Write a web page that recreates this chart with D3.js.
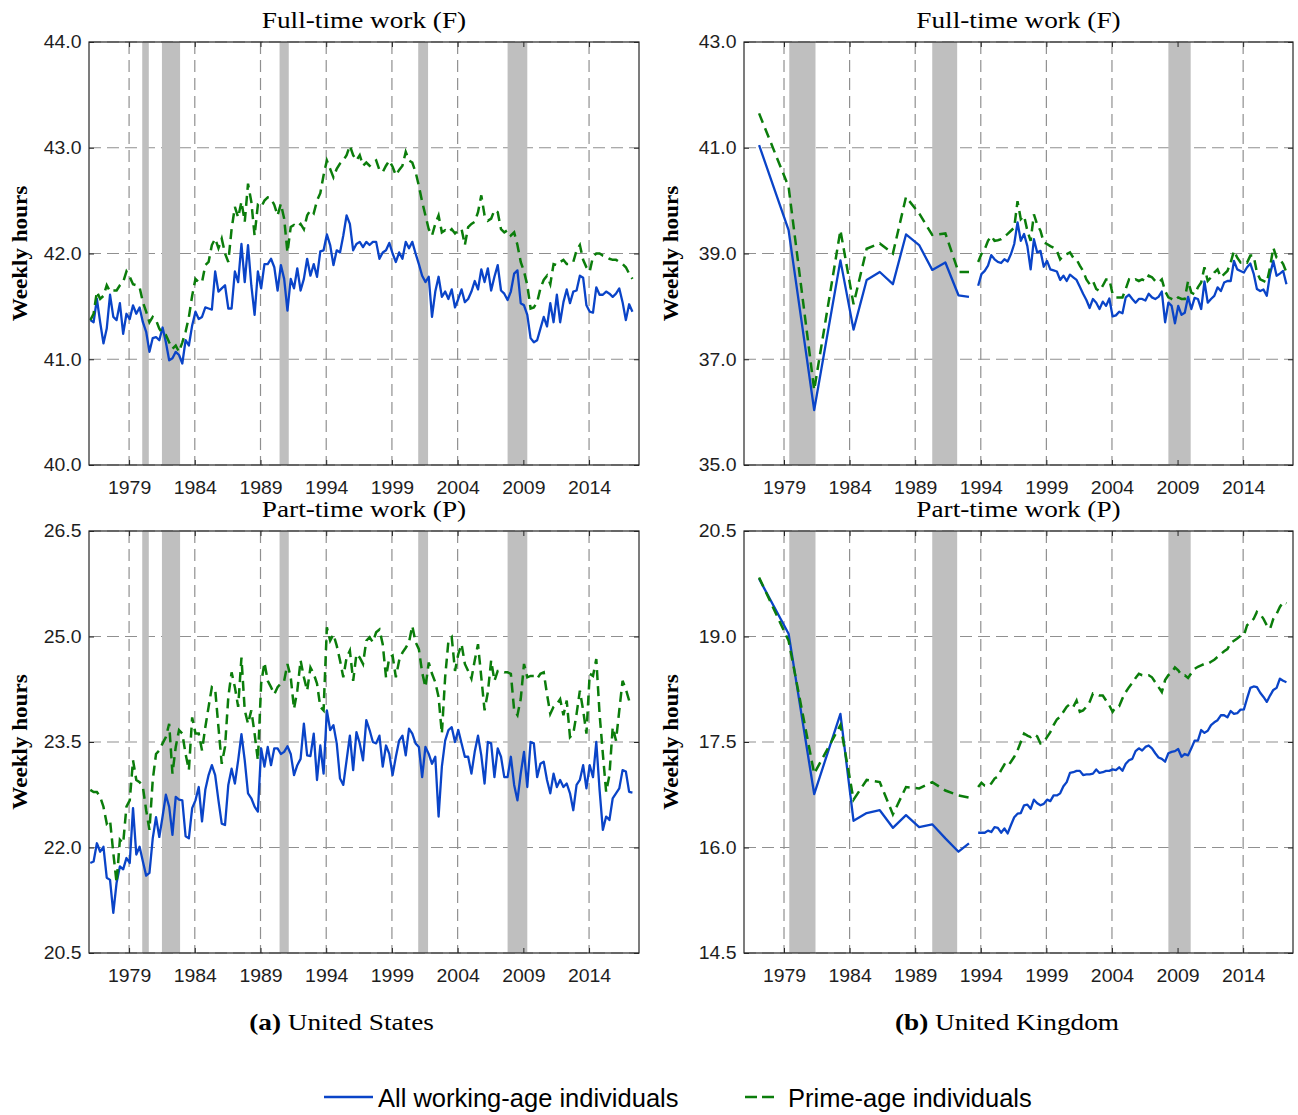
<!doctype html>
<html lang="en">
<head>
<meta charset="utf-8">
<title>Weekly hours in full-time and part-time work, US and UK</title>
<script src="https://cdn.jsdelivr.net/npm/d3@7"></script>
<style>
  body { margin: 0; background: #fff; }
  svg { display: block; background: #fff; }
  .tick text { font-family: "Liberation Sans", Arial, sans-serif; font-size: 18px; fill: #1e1e1e; }
  .tick line { stroke: #262626; stroke-width: 1; }
  .grid { stroke: #909090; stroke-width: 1.2; stroke-dasharray: 12,6; }
  .frame { fill: none; stroke: #262626; stroke-width: 1.2; }
  .recession { fill: #bfbfbf; }
  .line-all { fill: none; stroke: #0a44c8; stroke-width: 2.3; stroke-linejoin: round; }
  .line-prime { fill: none; stroke: #0b7d0b; stroke-width: 2.5; stroke-dasharray: 10,6; }
  .title, .caption { font-family: "Liberation Serif", "Times New Roman", serif; font-size: 23.5px; fill: #000; }
  .ylabel { font-family: "Liberation Serif", "Times New Roman", serif; font-size: 22px; font-weight: bold; fill: #000; }
  .legend { font-family: "Liberation Sans", Arial, sans-serif; font-size: 25.5px; fill: #000; }
</style>
</head>
<body>
<svg id="chart" width="1298" height="1115"></svg>
<script>
// ---- data ----
var xTickYears = [1979, 1984, 1989, 1994, 1999, 2004, 2009, 2014];

var usFullTicks = [40, 41, 42, 43, 44];
var usPartTicks = [20.5, 22, 23.5, 25, 26.5];
var ukFullTicks = [35, 37, 39, 41, 43];
var ukPartTicks = [14.5, 16, 17.5, 19, 20.5];

// recession periods (decimal years)
var usRecessions = [[1980.0, 1980.5], [1981.5, 1982.88], [1990.45, 1991.15], [2001.0, 2001.75], [2007.8, 2009.3]];
var ukRecessions = [[1979.4, 1981.4], [1990.3, 1992.2], [2008.3, 2010.0]];

// US: quarterly, first quarter of 1976 onwards
var usStart = 1976.05;

var usFullAll = [
  41.37, 41.35, 41.57, 41.35, 41.15, 41.29, 41.61, 41.40, 41.37, 41.53,
  41.24, 41.43, 41.38, 41.51, 41.43, 41.49, 41.35, 41.26, 41.07, 41.20,
  41.21, 41.18, 41.30, 41.16, 40.99, 41.01, 41.07, 41.04, 40.96, 41.18,
  41.13, 41.32, 41.45, 41.38, 41.40, 41.49, 41.48, 41.47, 41.83, 41.64,
  41.67, 41.70, 41.48, 41.48, 41.83, 41.73, 42.09, 41.73, 42.08, 41.70,
  41.42, 41.83, 41.67, 41.90, 41.90, 41.95, 41.87, 41.65, 41.89, 41.76,
  41.46, 41.76, 41.67, 41.86, 41.65, 41.76, 41.95, 41.79, 41.90, 41.78,
  42.02, 42.03, 42.18, 42.08, 41.89, 42.03, 42.01, 42.17, 42.36, 42.28,
  42.03, 42.09, 42.11, 42.06, 42.11,
  42.08, 42.11, 42.11,
  41.95, 42.01, 42.03, 42.10, 42.00, 41.92, 42.01, 41.95, 42.11, 42.05,
  42.11, 42.00, 41.90, 41.79, 41.73, 41.78, 41.40, 41.64, 41.78, 41.59,
  41.64, 41.57, 41.66, 41.49, 41.57, 41.66, 41.54, 41.57, 41.64, 41.74,
  41.66, 41.85, 41.73, 41.86, 41.65, 41.78, 41.89, 41.65, 41.62, 41.56,
  41.64, 41.81, 41.84, 41.53, 41.51, 41.42, 41.20, 41.16, 41.18, 41.29,
  41.40, 41.31, 41.53, 41.35, 41.61, 41.35, 41.54, 41.66, 41.53, 41.64,
  41.65, 41.79, 41.77, 41.51, 41.45, 41.44, 41.68, 41.61, 41.61, 41.64,
  41.62, 41.59, 41.62, 41.67, 41.54, 41.37, 41.52, 41.45
];

var usFullPrime = [
  41.37, 41.43, 41.64, 41.57, 41.60, 41.70, 41.64, 41.65, 41.65, 41.70,
  41.73, 41.83, 41.78, 41.71, 41.70, 41.68, 41.54, 41.45, 41.35, 41.40,
  41.37, 41.29, 41.24, 41.23, 41.16, 41.10, 41.13, 41.07, 41.16, 41.26,
  41.40, 41.60, 41.76, 41.73, 41.73, 41.89, 41.92, 42.08, 42.14, 42.05,
  42.14, 42.00, 41.92, 42.23, 42.44, 42.34, 42.49, 42.30, 42.66, 42.49,
  42.17, 42.46, 42.44, 42.50, 42.53, 42.52, 42.46, 42.36, 42.47, 42.33,
  42.01, 42.25, 42.27, 42.25, 42.28, 42.23, 42.36, 42.41, 42.38, 42.50,
  42.57, 42.74, 42.88, 42.80, 42.72, 42.80, 42.85, 42.88, 42.93, 43.02,
  42.93, 42.88, 42.93, 42.83, 42.86,
  42.83, 42.86, 42.88,
  42.79, 42.77, 42.83, 42.88, 42.82, 42.74, 42.79, 42.83, 42.96, 42.88,
  42.86, 42.77, 42.64, 42.49, 42.36, 42.23, 42.17, 42.28, 42.36, 42.20,
  42.22, 42.20, 42.23, 42.19, 42.22, 42.23, 42.08, 42.25, 42.28, 42.30,
  42.39, 42.55, 42.36, 42.31, 42.33, 42.41, 42.39, 42.23, 42.20, 42.22,
  42.17, 42.20, 42.08, 41.92, 41.83, 41.70, 41.48, 41.49, 41.54, 41.67,
  41.75, 41.79, 41.71, 41.90, 41.89, 41.92, 41.94, 41.90, 41.90, 41.92,
  42.03, 42.08, 41.94, 41.87, 41.83, 41.97, 42.00, 42.00, 41.98, 41.97,
  41.95, 41.94, 41.94, 41.92, 41.90, 41.87, 41.81, 41.76
];

var usPartAll = [
  21.78, 21.80, 22.06, 21.94, 22.01, 21.57, 21.54, 21.07, 21.50, 21.73,
  21.69, 21.85, 21.78, 22.56, 21.90, 22.01, 21.80, 21.60, 21.64, 22.13,
  22.43, 22.15, 22.44, 22.75, 22.58, 22.18, 22.72, 22.68, 22.67, 22.16,
  22.13, 22.56, 22.67, 22.86, 22.37, 22.82, 23.03, 23.17, 23.03, 22.67,
  22.34, 22.32, 22.89, 23.12, 22.91, 23.24, 23.61, 23.24, 22.77, 22.70,
  22.58, 22.51, 23.41, 23.15, 23.43, 23.17, 23.41, 23.41, 23.33, 23.36,
  23.44, 23.33, 23.03, 23.17, 23.26, 23.76, 23.31, 23.30, 23.62, 22.96,
  23.45, 23.05, 23.95, 23.67, 23.74, 23.48, 22.98, 22.89, 23.24, 23.59,
  23.10, 23.64, 23.48, 23.24, 23.81,
  23.67, 23.50, 23.48, 23.59, 23.15, 23.45, 23.33, 23.03, 23.29, 23.52,
  23.59, 23.31, 23.69, 23.62, 23.48, 23.43, 23.00, 23.43, 23.33, 23.19,
  23.29, 22.44, 23.15, 23.52, 23.67, 23.71, 23.50, 23.67, 23.48, 23.29,
  23.29, 23.05, 23.36, 23.59, 23.31, 22.91, 23.50, 23.48, 23.00, 23.41,
  23.29, 23.00, 23.00, 23.29, 22.89, 22.67, 23.05, 23.36, 22.86, 23.50,
  23.48, 23.00, 23.19, 23.22, 22.96, 22.77, 23.05, 22.86, 22.96, 22.86,
  22.91, 22.77, 22.53, 22.89, 22.96, 23.17, 22.84, 23.17, 23.00, 23.50,
  22.82, 22.25, 22.44, 22.39, 22.70, 22.77, 22.84, 23.10, 23.08, 22.79,
  22.78
];

var usPartPrime = [
  22.82, 22.79, 22.79, 22.72, 22.58, 22.34, 22.39, 21.92, 21.50, 22.11,
  22.06, 22.58, 22.67, 23.24, 22.96, 22.93, 22.86, 22.53, 22.25, 22.96,
  23.33, 23.38, 23.48, 23.57, 23.76, 23.05, 23.43, 23.67, 23.62, 23.33,
  23.10, 23.85, 23.62, 23.62, 23.38, 23.71, 24.00, 24.28, 24.25, 23.71,
  23.19, 23.43, 24.14, 24.49, 24.28, 24.00, 24.70, 23.95, 23.76, 23.95,
  23.62, 23.24, 24.33, 24.63, 24.37, 24.28, 24.18, 24.28, 24.33, 24.37,
  24.61, 24.42, 23.97, 24.23, 24.66, 24.42, 24.23, 24.56, 24.47, 24.33,
  24.00, 23.95, 25.13, 24.94, 25.03, 24.87, 24.66, 24.42, 24.70, 24.80,
  24.37, 24.75, 24.70, 24.61, 24.94,
  24.99, 24.92, 25.06, 25.10, 24.89, 24.42, 24.70, 24.73, 24.42, 24.66,
  24.77, 24.84, 24.92, 25.15, 24.92, 24.82, 24.49, 24.28, 24.63, 24.47,
  24.35, 24.14, 23.62, 24.42, 24.94, 24.99, 24.51, 24.75, 24.89, 24.61,
  24.51, 24.40, 24.66, 24.89, 24.42, 23.95, 24.21, 24.66, 24.37, 24.51,
  24.51, 24.49, 24.49, 24.47, 23.95, 23.88, 24.11, 24.61, 24.42, 24.44,
  24.44, 24.40, 24.47, 24.49, 24.18, 23.90, 24.00, 24.04, 24.11, 23.88,
  24.09, 23.57, 23.62, 23.90, 24.23, 23.95, 23.62, 24.47, 24.44, 24.68,
  23.90, 23.33, 22.79, 23.03, 23.71, 23.52, 23.95, 24.37, 24.25, 24.09,
  24.07
];

// UK: sparse survey years up to 1993, quarterly afterwards
var ukEarlyYears = [1977.1, 1979.35, 1981.3, 1983.3, 1984.3, 1985.3, 1986.3, 1987.3, 1988.3, 1989.3, 1990.3, 1991.3, 1992.3, 1993.1];
var ukFullAllEarly = [41.05, 39.44, 36.04, 38.87, 37.56, 38.50, 38.65, 38.42, 39.36, 39.16, 38.69, 38.83, 38.21, 38.18];
var ukFullPrimeEarly = [41.65, 40.26, 36.42, 39.44, 38.04, 39.09, 39.19, 39.00, 40.07, 39.76, 39.35, 39.38, 38.65, 38.65];
var ukPartAllEarly = [19.82, 19.04, 16.76, 17.90, 16.38, 16.49, 16.53, 16.28, 16.46, 16.29, 16.33, 16.13, 15.94, 16.06];
var ukPartPrimeEarly = [19.84, 18.94, 17.05, 17.74, 16.68, 16.96, 16.93, 16.47, 16.86, 16.84, 16.93, 16.81, 16.74, 16.71];

var ukStart = 1993.8;

var ukFullAll = [
  38.39, 38.61, 38.67, 38.77, 38.97, 38.89, 38.84, 38.82, 38.89, 38.85,
  38.99, 39.18, 39.59, 39.24, 39.37, 39.14, 38.70, 39.27, 39.02, 39.05,
  38.75, 38.86, 38.70, 38.68, 38.66, 38.50, 38.58, 38.48, 38.60, 38.55,
  38.50, 38.37, 38.24, 38.12, 37.97, 38.14, 38.07, 37.95, 38.09, 38.01,
  38.15, 37.81, 37.83, 37.90, 37.87, 38.17, 38.22, 38.14, 38.07, 38.14,
  38.14, 38.11, 38.24, 38.17, 38.14, 38.18, 38.28, 37.70, 38.07, 38.01,
  37.68, 38.01, 37.84, 37.88, 38.18, 37.95, 38.16, 38.14, 37.95, 38.47,
  38.07, 38.14, 38.20, 38.36, 38.29, 38.45, 38.48, 38.48, 38.86, 38.70,
  38.67, 38.64, 38.74, 38.81, 38.62, 38.33, 38.29, 38.32, 38.20, 38.61,
  38.86, 38.58, 38.62, 38.67, 38.42
];

var ukFullPrime = [
  38.84, 38.99, 39.08, 39.24, 39.33, 39.24, 39.25, 39.27, 39.32, 39.37,
  39.43, 39.49, 39.99, 39.65, 39.71, 39.43, 39.24, 39.74, 39.55, 39.43,
  39.21, 39.18, 39.14, 39.11, 39.05, 38.89, 38.96, 38.99, 39.02, 38.92,
  38.89, 38.77, 38.67, 38.51, 38.42, 38.48, 38.33, 38.29, 38.39, 38.51,
  38.51, 38.23, 38.17, 38.17, 38.17, 38.33, 38.51, 38.48, 38.51, 38.48,
  38.51, 38.48, 38.58, 38.55, 38.48, 38.45, 38.51, 38.29, 38.17, 38.14,
  38.11, 38.17, 38.14, 38.14, 38.48, 38.26, 38.23, 38.36, 38.45, 38.74,
  38.48, 38.55, 38.64, 38.70, 38.55, 38.61, 38.67, 38.83, 39.05, 38.92,
  38.83, 38.86, 38.83, 38.96, 38.96, 38.64, 38.51, 38.48, 38.45, 38.74,
  39.11, 38.92, 38.89, 38.80, 38.64
];

var ukPartAll = [
  16.21, 16.21, 16.21, 16.24, 16.22, 16.29, 16.28, 16.21, 16.27, 16.20,
  16.32, 16.43, 16.48, 16.49, 16.60, 16.61, 16.55, 16.68, 16.63, 16.60,
  16.62, 16.68, 16.66, 16.74, 16.74, 16.77, 16.87, 16.93, 17.06, 17.07,
  17.09, 17.09, 17.03, 17.04, 17.04, 17.05, 17.11, 17.06, 17.07, 17.09,
  17.09, 17.11, 17.10, 17.14, 17.09, 17.19, 17.24, 17.26, 17.37, 17.41,
  17.38, 17.43, 17.45, 17.41, 17.34, 17.28, 17.26, 17.22, 17.34, 17.36,
  17.37, 17.40, 17.29, 17.33, 17.31, 17.41, 17.52, 17.52, 17.67, 17.63,
  17.66, 17.74, 17.78, 17.81, 17.88, 17.88, 17.85, 17.94, 17.90, 17.91,
  17.96, 17.96, 18.12, 18.27, 18.29, 18.28, 18.20, 18.14, 18.07, 18.16,
  18.24, 18.27, 18.40, 18.37, 18.35
];

var ukPartPrime = [
  16.86, 16.92, 16.88, 16.87, 16.91, 16.98, 17.01, 17.10, 17.18, 17.15,
  17.22, 17.29, 17.38, 17.50, 17.62, 17.59, 17.57, 17.61, 17.58, 17.48,
  17.50, 17.57, 17.64, 17.74, 17.82, 17.86, 17.93, 18.00, 18.04, 18.00,
  18.09, 17.93, 17.95, 18.00, 18.07, 18.19, 18.18, 18.16, 18.16, 18.09,
  18.02, 17.93, 18.00, 18.01, 18.12, 18.21, 18.28, 18.34, 18.41, 18.47,
  18.45, 18.45, 18.45, 18.42, 18.35, 18.28, 18.21, 18.38, 18.45, 18.49,
  18.56, 18.52, 18.45, 18.45, 18.41, 18.48, 18.54, 18.57, 18.59, 18.61,
  18.61, 18.64, 18.67, 18.71, 18.75, 18.79, 18.82, 18.91, 18.94, 18.97,
  19.01, 19.01, 19.16, 19.20, 19.25, 19.35, 19.32, 19.25, 19.16, 19.11,
  19.25, 19.32, 19.42, 19.49, 19.47
];

// ---- layout ----
var svg = d3.select("#chart");

var usQuarters = usFullAll.map(function(d, i) { return usStart + i / 4; });
var ukQuarters = ukFullAll.map(function(d, i) { return ukStart + i / 4; });

var colLeft = { left: 89, right: 639, ylabelX: 26.5 };
var colRight = { left: 744, right: 1293, ylabelX: 678 };
var rowTop = { top: 42, bottom: 465, titleY: 27.5 };
var rowBottom = { top: 531, bottom: 953, titleY: 517 };

var panels = [
  { col: colLeft, row: rowTop, title: "Full-time work (F)", yDomain: [40, 44], yTicks: usFullTicks, recessions: usRecessions,
    series: [ { x: usQuarters, y: usFullAll, cls: "line-all" }, { x: usQuarters, y: usFullPrime, cls: "line-prime" } ] },
  { col: colLeft, row: rowBottom, title: "Part-time work (P)", yDomain: [20.5, 26.5], yTicks: usPartTicks, recessions: usRecessions,
    series: [ { x: usQuarters, y: usPartAll, cls: "line-all" }, { x: usQuarters, y: usPartPrime, cls: "line-prime" } ] },
  { col: colRight, row: rowTop, title: "Full-time work (F)", yDomain: [35, 43], yTicks: ukFullTicks, recessions: ukRecessions,
    series: [ { x: ukEarlyYears, y: ukFullAllEarly, cls: "line-all" }, { x: ukQuarters, y: ukFullAll, cls: "line-all" },
              { x: ukEarlyYears, y: ukFullPrimeEarly, cls: "line-prime" }, { x: ukQuarters, y: ukFullPrime, cls: "line-prime" } ] },
  { col: colRight, row: rowBottom, title: "Part-time work (P)", yDomain: [14.5, 20.5], yTicks: ukPartTicks, recessions: ukRecessions,
    series: [ { x: ukEarlyYears, y: ukPartAllEarly, cls: "line-all" }, { x: ukQuarters, y: ukPartAll, cls: "line-all" },
              { x: ukEarlyYears, y: ukPartPrimeEarly, cls: "line-prime" }, { x: ukQuarters, y: ukPartPrime, cls: "line-prime" } ] }
];

var xDomain = [1975.95, 2017.8];
var stretch = 1.08; // tick labels in the original are set a little wide

panels.forEach(function(p) {
  var x = d3.scaleLinear().domain(xDomain).range([p.col.left, p.col.right]);
  var y = d3.scaleLinear().domain(p.yDomain).range([p.row.bottom, p.row.top]);
  var g = svg.append("g");

  // dashed grid
  g.selectAll("line.gx")
    .data(xTickYears)
    .join("line")
    .attr("class", "grid")
    .attr("x1", d => x(d)).attr("x2", d => x(d))
    .attr("y1", p.row.top).attr("y2", p.row.bottom);

  g.selectAll("line.gy")
    .data(p.yTicks)
    .join("line")
    .attr("class", "grid")
    .attr("x1", p.col.left).attr("x2", p.col.right)
    .attr("y1", d => y(d)).attr("y2", d => y(d));

  // recession bands
  g.selectAll("rect.recession")
    .data(p.recessions)
    .join("rect")
    .attr("class", "recession")
    .attr("x", d => x(d[0]))
    .attr("width", d => x(d[1]) - x(d[0]))
    .attr("y", p.row.top)
    .attr("height", p.row.bottom - p.row.top);

  // lines: all working-age first, prime-age on top
  var order = p.series.filter(s => s.cls === "line-all").concat(p.series.filter(s => s.cls === "line-prime"));
  order.forEach(function(s) {
    var line = d3.line()
      .x((d, i) => x(s.x[i]))
      .y(d => y(d));
    g.append("path")
      .datum(s.y)
      .attr("class", s.cls)
      .attr("d", line);
  });

  // frame
  g.append("rect")
    .attr("class", "frame")
    .attr("x", p.col.left).attr("y", p.row.top)
    .attr("width", p.col.right - p.col.left)
    .attr("height", p.row.bottom - p.row.top);

  // axes with inward ticks
  var yAxis = g.append("g")
    .attr("transform", "translate(" + p.col.left + ",0)")
    .call(d3.axisLeft(y).tickValues(p.yTicks).tickFormat(d3.format(".1f")).tickSizeInner(-5).tickSizeOuter(0).tickPadding(7));
  yAxis.selectAll("text").attr("transform", "scale(" + stretch + ",1)");

  var xAxis = g.append("g")
    .attr("transform", "translate(0," + p.row.bottom + ")")
    .call(d3.axisBottom(x).tickValues(xTickYears).tickFormat(d3.format("d")).tickSizeInner(-5).tickSizeOuter(0).tickPadding(16));
  xAxis.selectAll("text").attr("transform", "scale(" + stretch + ",1)");

  g.append("g")
    .attr("transform", "translate(" + p.col.right + ",0)")
    .call(d3.axisRight(y).tickValues(p.yTicks).tickFormat("").tickSizeInner(-5).tickSizeOuter(0));
  g.append("g")
    .attr("transform", "translate(0," + p.row.top + ")")
    .call(d3.axisTop(x).tickValues(xTickYears).tickFormat("").tickSizeInner(-5).tickSizeOuter(0));
  g.selectAll(".domain").remove();

  // panel title
  g.append("text")
    .attr("class", "title")
    .attr("text-anchor", "middle")
    .attr("transform", "translate(" + (p.col.left + p.col.right) / 2 + "," + p.row.titleY + ") scale(1.16,1)")
    .text(p.title);

  // y label
  g.append("text")
    .attr("class", "ylabel")
    .attr("text-anchor", "middle")
    .attr("transform", "translate(" + p.col.ylabelX + "," + (p.row.top + p.row.bottom) / 2 + ") rotate(-90) scale(1.05,1)")
    .text("Weekly hours");
});

// sub-figure captions
var captions = [
  { x: 341.5, label: "(a)", text: " United States" },
  { x: 1007, label: "(b)", text: " United Kingdom" }
];
captions.forEach(function(c) {
  var t = svg.append("text")
    .attr("class", "caption")
    .attr("text-anchor", "middle")
    .attr("transform", "translate(" + c.x + ",1030) scale(1.16,1)");
  t.append("tspan").attr("font-weight", "bold").text(c.label);
  t.append("tspan").text(c.text);
});

// legend
var legendItems = [
  { cls: "line-all", x1: 324, x2: 373, tx: 378, text: "All working-age individuals" },
  { cls: "line-prime", x1: 745, x2: 774, tx: 788, text: "Prime-age individuals" }
];
var legend = svg.append("g");
legend.selectAll("line")
  .data(legendItems)
  .join("line")
  .attr("class", d => d.cls)
  .attr("x1", d => d.x1).attr("x2", d => d.x2)
  .attr("y1", 1097).attr("y2", 1097)
  .style("stroke-dasharray", d => d.cls === "line-prime" ? "12,5" : null);
legend.selectAll("text")
  .data(legendItems)
  .join("text")
  .attr("class", "legend")
  .attr("x", d => d.tx)
  .attr("y", 1107)
  .text(d => d.text);
</script>
</body>
</html>
